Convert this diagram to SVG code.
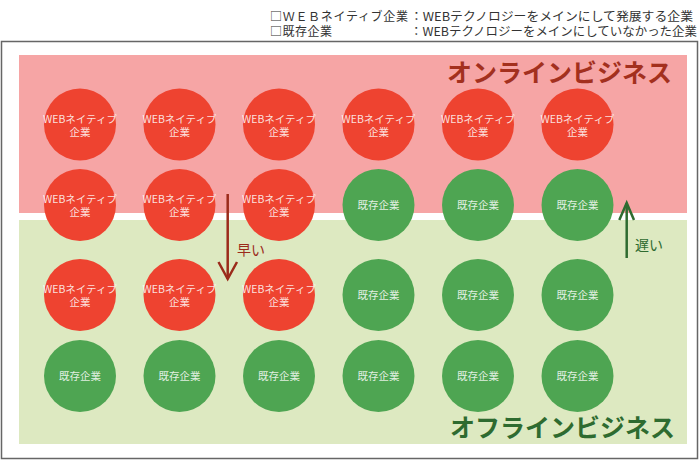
<svg xmlns="http://www.w3.org/2000/svg" width="700" height="460" viewBox="0 0 700 460">
<style>
text{font-family:"Noto Sans CJK JP","Noto Sans",sans-serif}
.web{fill:#ee4330}
.old{fill:#4ea552}
.lbl{fill:#fff;fill-opacity:.85;font-size:10.5px;text-anchor:middle}
.legend{fill:#333;font-size:12px}
.title{font-size:25px;font-weight:bold;text-anchor:end}
</style>
<defs>
<g id="w"><circle r="36" class="web"/><text class="lbl" y="-2">WEBネイティブ</text><text class="lbl" y="11">企業</text></g>
<g id="o"><circle r="36" class="old"/><text class="lbl" y="4">既存企業</text></g>
</defs>
<g id="legend">
<text class="legend" x="270" y="20.5" textLength="138" lengthAdjust="spacing">□ＷＥＢネイティブ企業</text>
<text class="legend" x="410" y="20.5" textLength="283" lengthAdjust="spacingAndGlyphs">：WEBテクノロジーをメインにして発展する企業</text>
<text class="legend" x="270" y="36" textLength="62" lengthAdjust="spacing">□既存企業</text>
<text class="legend" x="410" y="36" textLength="287" lengthAdjust="spacingAndGlyphs">：WEBテクノロジーをメインにしていなかった企業</text>
</g>
<rect id="frame" x="1.5" y="41.5" width="696" height="417" fill="#fff" stroke="#666" stroke-width="1.5"/>
<g id="online">
<rect x="19" y="55" width="668" height="158" fill="#f6a5a5"/>
<text class="title" x="672" y="82" fill="#a3301e">オンラインビジネス</text>
</g>
<g id="offline">
<rect x="19" y="220" width="668" height="224" fill="#dde9c1"/>
<text class="title" x="675" y="437" fill="#2e6b30">オフラインビジネス</text>
</g>
<g id="n1"><use href="#w" x="80" y="124.5"/></g>
<g id="n2"><use href="#w" x="179.5" y="124.5"/></g>
<g id="n3"><use href="#w" x="279" y="124.5"/></g>
<g id="n4"><use href="#w" x="378.5" y="124.5"/></g>
<g id="n5"><use href="#w" x="478" y="124.5"/></g>
<g id="n6"><use href="#w" x="577.5" y="124.5"/></g>
<g id="n7"><use href="#w" x="80" y="205"/></g>
<g id="n8"><use href="#w" x="179.5" y="205"/></g>
<g id="n9"><use href="#w" x="279" y="205"/></g>
<g id="n10"><use href="#o" x="378.5" y="205"/></g>
<g id="n11"><use href="#o" x="478" y="205"/></g>
<g id="n12"><use href="#o" x="577.5" y="205"/></g>
<g id="n13"><use href="#w" x="80" y="295"/></g>
<g id="n14"><use href="#w" x="179.5" y="295"/></g>
<g id="n15"><use href="#w" x="279" y="295"/></g>
<g id="n16"><use href="#o" x="378.5" y="295"/></g>
<g id="n17"><use href="#o" x="478" y="295"/></g>
<g id="n18"><use href="#o" x="577.5" y="295"/></g>
<g id="n19"><use href="#o" x="80" y="376"/></g>
<g id="n20"><use href="#o" x="179.5" y="376"/></g>
<g id="n21"><use href="#o" x="279" y="376"/></g>
<g id="n22"><use href="#o" x="378.5" y="376"/></g>
<g id="n23"><use href="#o" x="478" y="376"/></g>
<g id="n24"><use href="#o" x="577.5" y="376"/></g>
<g id="connectors" fill="none" stroke-width="2.5">
<g stroke="#9b2b1b">
<line x1="227.7" y1="194" x2="227.7" y2="279"/>
<polyline points="218.5,262 227.7,279 237,262"/>
</g>
<g stroke="#2e6b30">
<line x1="626.7" y1="203" x2="626.7" y2="258"/>
<polyline points="619.3,220 626.7,203 634,220"/>
</g>
</g>
<text x="237" y="255" font-size="14" fill="#9b2b1b">早い</text>
<text x="635" y="250" font-size="14" fill="#2e6b30">遅い</text>
</svg>
